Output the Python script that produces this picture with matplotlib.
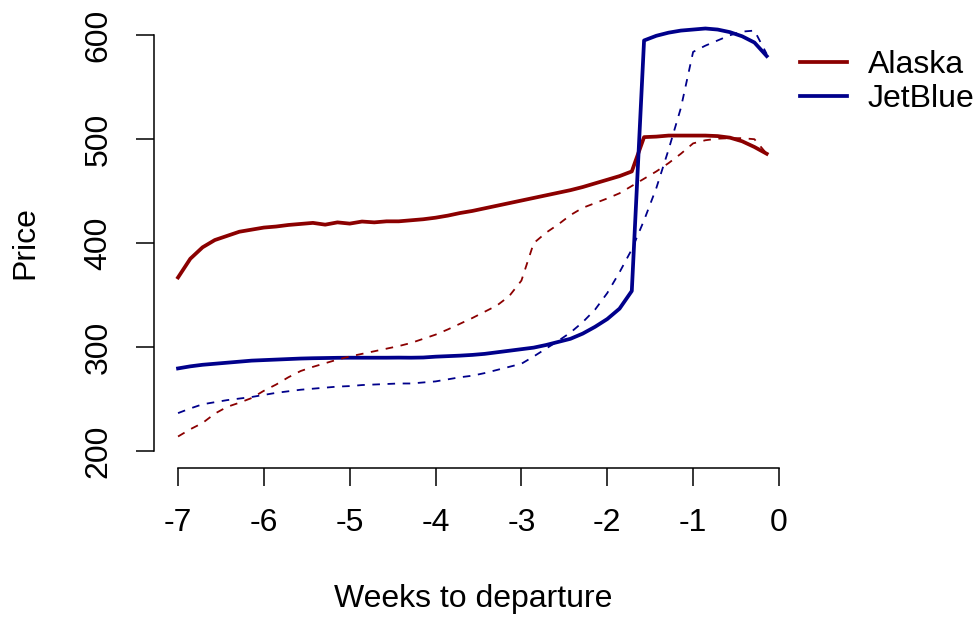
import numpy as np
import matplotlib
matplotlib.use("Agg")
import matplotlib.pyplot as plt
from matplotlib.lines import Line2D

plt.rcParams['font.family'] = ['Liberation Sans', 'DejaVu Sans']
plt.rcParams['axes.unicode_minus'] = False

# one point per day, in weeks before departure
weeks = np.arange(-49, 0) / 7

# solid = this year, dashed = reference curve
alaska = [367, 385, 396, 403, 407, 411, 413, 415, 416, 417.5,
          418.5, 419.5, 417.8, 420, 418.8, 420.8, 420, 421, 421, 422,
          423, 424.5, 426.5, 429, 431, 433.5, 436, 438.5, 441, 443.5,
          446, 448.5, 451, 454, 457.5, 461, 464.5, 469, 502, 502.5,
          503.5, 503.5, 503.5, 503.5, 503, 501.5, 498, 492.5, 486]
jetblue = [279.5, 281.5, 283, 284, 285, 286, 287, 287.5, 288, 288.5,
           289, 289.3, 289.5, 289.7, 289.8, 289.8, 289.8, 289.8, 289.9, 289.8,
           290, 290.8, 291.3, 291.8, 292.5, 293.5, 295, 296.5, 298, 299.5,
           302, 305, 308, 313, 319.5, 327, 337, 354, 595, 599.5,
           602.5, 604.5, 605.5, 606.5, 605.5, 603, 599, 593, 580]
alaska_ref = [214, 221, 227, 236, 242.5, 246.5, 251, 258, 264, 271,
              277, 281, 284.5, 288, 291, 293.5, 296, 298.5, 301, 304,
              308, 312, 317, 322.5, 328, 334, 340, 349, 364, 400,
              410, 418, 427, 434, 438.5, 443, 448, 455, 462, 469,
              477, 486, 496, 499, 500.5, 501, 501, 500, 486]
jetblue_ref = [236.5, 241, 245, 247, 249, 250.5, 252, 254, 256, 257.5,
               259, 260, 261, 262, 262.5, 263.5, 264, 264.5, 265, 265,
               266, 267, 269, 271, 272.5, 275, 278, 281, 284, 291,
               298.5, 306, 314, 324, 336, 352, 372, 394, 422, 453,
               490, 530, 584, 590, 595, 600, 603.5, 604.5, 582]

airlines = ['Alaska', 'JetBlue']
colors = ['#8B0000', '#00008B']

W, H = 975, 619
fig = plt.figure(figsize=(W / 100, H / 100), dpi=100)
ax = fig.add_axes([154 / W, (H - 468) / H, (803 - 154) / W, (468 - 10) / H])

fs = 23
ax.plot(weeks, alaska, color=colors[0], lw=2.7, solid_joinstyle='round')
ax.plot(weeks, jetblue, color=colors[1], lw=2.7, solid_joinstyle='round')
ax.plot(weeks, alaska_ref, color=colors[0], lw=1.3, ls=(0, (4.2, 4.2)))
ax.plot(weeks, jetblue_ref, color=colors[1], lw=1.3, ls=(0, (4.2, 4.2)))

ax.set_xlim(-7.28, 0.28)
ax.set_ylim(183.7, 624.3)
ax.set_xticks(range(-7, 1))
ax.set_yticks(range(200, 601, 100))
ax.set_yticklabels([str(v) for v in range(200, 601, 100)], rotation=90, va='center')
ax.tick_params(direction='out', length=13, width=1.1, labelsize=fs, pad=16, color='black')
for s in ['top', 'right']:
    ax.spines[s].set_visible(False)
ax.spines['left'].set_bounds(200, 600)
ax.spines['bottom'].set_bounds(-7, 0)
for s in ['left', 'bottom']:
    ax.spines[s].set_linewidth(1.1)

fig.text(473 / W, 1 - 599 / H, 'Weeks to departure', fontsize=fs, ha='center', va='center')
fig.text(25 / W, 1 - 243 / H, 'Price', fontsize=fs, ha='center', va='center', rotation=90)

handles = [Line2D([], [], color=c, lw=2.7) for c in colors]
fig.legend(handles, airlines, loc='upper left', bbox_to_anchor=(800 / W, 1 - 50 / H),
           frameon=False, fontsize=fs, handlelength=1.47, handletextpad=0.66,
           labelspacing=0.13, borderpad=0, borderaxespad=0)

fig.savefig('out.png', dpi=100)
